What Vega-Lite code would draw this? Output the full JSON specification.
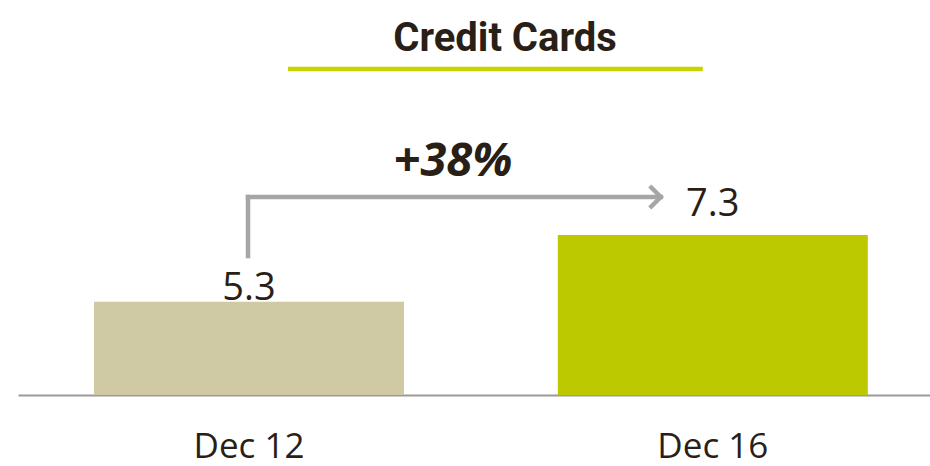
{
  "$schema": "https://vega.github.io/schema/vega-lite/v6.json",
  "width": 912,
  "height": 300,
  "autosize": "none",
  "padding": {"top": 95, "left": 18, "right": 0, "bottom": 71},
  "background": "white",
  "title": {
    "text": "Credit Cards",
    "font": "Roboto",
    "fontSize": 40,
    "fontWeight": "bold",
    "color": "#2a1f16",
    "anchor": "middle",
    "frame": "group",
    "dx": 31,
    "offset": -24,
    "baseline": "alphabetic"
  },
  "config": {"view": {"stroke": null}},
  "data": {"values": [
    {"period": "Dec 12", "value": 5.3},
    {"period": "Dec 16", "value": 7.3}
  ]},
  "encoding": {
    "x": {
      "field": "period",
      "type": "nominal",
      "sort": null,
      "scale": {"paddingInner": 0.3316, "paddingOuter": 0.149, "align": 0.55},
      "axis": {
        "title": null,
        "labelAngle": 0,
        "ticks": false,
        "tickSize": 0,
        "domainColor": "#9a9a9a",
        "domainWidth": 2,
        "labelFont": "Open Sans",
        "labelFontSize": 35,
        "labelColor": "#2a1f16",
        "labelBaseline": "alphabetic",
        "labelPadding": 62
      }
    }
  },
  "layer": [
    {
      "mark": {"type": "bar"},
      "encoding": {
        "y": {"field": "value", "type": "quantitative", "scale": {"domain": [2.5, 11.5], "nice": false, "zero": false}, "axis": null},
        "y2": {"datum": 2.5},
        "color": {"field": "period", "type": "nominal", "scale": {"range": ["#cfcaa3", "#bcc800"]}, "legend": null}
      }
    },
    {
      "transform": [{"filter": "datum.period == 'Dec 12'"}],
      "mark": {"type": "text", "font": "Open Sans", "fontSize": 38, "color": "#2a1f16", "baseline": "alphabetic", "dy": -2},
      "encoding": {
        "y": {"field": "value", "type": "quantitative"},
        "text": {"field": "value", "type": "quantitative", "format": ".1f"}
      }
    },
    {
      "transform": [{"filter": "datum.period == 'Dec 16'"}],
      "mark": {"type": "text", "font": "Open Sans", "fontSize": 38, "color": "#2a1f16", "baseline": "alphabetic", "dy": -19},
      "encoding": {
        "y": {"field": "value", "type": "quantitative"},
        "text": {"field": "value", "type": "quantitative", "format": ".1f"}
      }
    },
    {
      "data": {"values": [{"from": "Dec 12", "to": "Dec 16", "level": 12.28}]},
      "mark": {"type": "rule", "color": "#c8d400", "strokeWidth": 4.5, "xOffset": 39, "x2Offset": -10},
      "encoding": {
        "x": {"field": "from", "type": "nominal"},
        "x2": {"field": "to"},
        "y": {"field": "level", "type": "quantitative"}
      }
    },
    {
      "data": {"values": [{"from": "Dec 12", "low": 6.67, "high": 8.44}]},
      "mark": {"type": "rule", "color": "#a6a6a6", "strokeWidth": 4.5, "strokeCap": "square", "xOffset": -1},
      "encoding": {
        "x": {"field": "from", "type": "nominal"},
        "y": {"field": "low", "type": "quantitative"},
        "y2": {"field": "high"}
      }
    },
    {
      "data": {"values": [{"from": "Dec 12", "to": "Dec 16", "high": 8.44}]},
      "mark": {"type": "rule", "color": "#a6a6a6", "strokeWidth": 4.5, "strokeCap": "square", "xOffset": -1, "x2Offset": -52},
      "encoding": {
        "x": {"field": "from", "type": "nominal"},
        "x2": {"field": "to"},
        "y": {"field": "high", "type": "quantitative"}
      }
    },
    {
      "data": {"values": [{"to": "Dec 16", "high": 8.44}]},
      "mark": {"type": "point", "shape": "M-1,-1L0,0L-1,1", "filled": false, "stroke": "#a6a6a6", "strokeWidth": 4.5, "strokeJoin": "miter", "size": 484, "opacity": 1, "xOffset": -52},
      "encoding": {
        "x": {"field": "to", "type": "nominal"},
        "y": {"field": "high", "type": "quantitative"}
      }
    },
    {
      "data": {"values": [{"from": "Dec 12", "pos": 9.49, "label": "+38%"}]},
      "mark": {"type": "text", "font": "Open Sans", "fontSize": 47, "fontWeight": "bold", "fontStyle": "italic", "color": "#2a1f16", "baseline": "middle", "xOffset": 204},
      "encoding": {
        "x": {"field": "from", "type": "nominal"},
        "y": {"field": "pos", "type": "quantitative"},
        "text": {"field": "label"}
      }
    }
  ]
}
